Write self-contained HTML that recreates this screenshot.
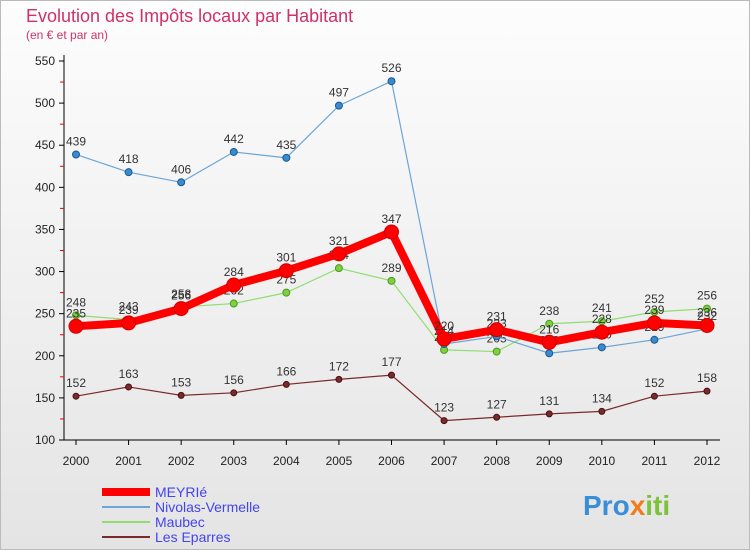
<!DOCTYPE html>
<html><head><meta charset="utf-8"><style>
body{margin:0;width:750px;height:550px;overflow:hidden;font-family:"Liberation Sans",sans-serif;}
svg{display:block}
</style></head><body>
<svg width="750" height="550" xmlns="http://www.w3.org/2000/svg">
<defs><linearGradient id="bg" x1="0" y1="0" x2="0" y2="1"><stop offset="0" stop-color="#fdfdfd"/><stop offset="1" stop-color="#e4e4e4"/></linearGradient></defs>
<rect x="0.5" y="0.5" width="749" height="549" fill="url(#bg)" stroke="#bbb"/>
<text x="26" y="22" font-size="18" fill="#d0306a">Evolution des Impôts locaux par Habitant</text>
<text x="26" y="39" font-size="12" fill="#d0306a">(en € et par an)</text>
<g id="axes"></g><g id="series"></g><g id="legend"></g>
<text x="583" y="515" font-size="28" font-weight="bold"><tspan fill="#3a8ed8">Pro</tspan><tspan fill="#f07c1a">x</tspan><tspan fill="#7cc23a">iti</tspan></text>
</svg>
<script>
const years=["2000","2001","2002","2003","2004","2005","2006","2007","2008","2009","2010","2011","2012"];
const meyrie=[235,239,256,284,301,321,347,220,231,216,228,239,236];
const nivolas=[439,418,406,442,435,497,526,214,223,203,210,219,232];
const maubec=[248,243,258,262,275,304,289,207,205,238,241,252,256];
const eparres=[152,163,153,156,166,172,177,123,127,131,134,152,158];
const yTicks=[100,150,200,250,300,350,400,450,500,550];
const NS="http://www.w3.org/2000/svg";
const X=i=>76+i*(707-76)/12;
const Y=v=>440-(v-100)*(440-61)/450;
function mk(t,a,p){const e=document.createElementNS(NS,t);for(const k in a)e.setAttribute(k,a[k]);p.appendChild(e);return e;}
const ax=document.getElementById('axes');
let yl=mk('line',{x1:64,y1:55,x2:64,y2:440,stroke:'#000'},ax);


let xl=mk('line',{x1:64,y1:440,x2:720,y2:440,stroke:'#000'},ax);


yTicks.forEach(v=>{mk('line',{x1:59,y1:Y(v),x2:64,y2:Y(v),stroke:'#000'},ax);
 if(v<550)mk('line',{x1:60,y1:Y(v+25),x2:64,y2:Y(v+25),stroke:'#e00'},ax);
 const t=mk('text',{x:55,y:Y(v)+4,'font-size':12,'text-anchor':'end',fill:'#222'},ax);t.textContent=v;
 
 });
years.forEach((y,i)=>{mk('line',{x1:X(i),y1:440,x2:X(i),y2:445,stroke:'#000'},ax);
 const t=mk('text',{x:X(i),y:465,'font-size':12,'text-anchor':'middle',fill:'#222'},ax);t.textContent=y;
 
 });
const sg=document.getElementById('series');
function series(data,name,color,w,r,dot,stroke){
 const g=mk('g',{},sg);
 
 
 mk('polyline',{points:data.map((v,i)=>X(i)+','+Y(v)).join(' '),fill:'none',stroke:color,'stroke-width':w,'stroke-linejoin':'round'},g);
 data.forEach((v,i)=>{const c=mk('circle',{cx:X(i),cy:Y(v),r:r,fill:dot,stroke:stroke,'stroke-width':1},g);
  
  
  const t=mk('text',{x:X(i),y:Y(v)-9,'font-size':12,'text-anchor':'middle',fill:'#333'},g);t.textContent=v;
  
  });
}
series(eparres,'les-eparres','#7a2a2a',1.2,3,'#7a2a2a','#4a1010');
series(maubec,'maubec','#90dd70',1.2,3.5,'#80d040','#4a9a20');
series(nivolas,'nivolas-vermelle','#6aa6d8',1.2,3.5,'#3a8ad0','#1a5a90');
series(meyrie,'meyrie','#ff0000',8,7,'#ff0000','#d00000');
const lg=document.getElementById('legend');
const leg=[['MEYRIé','#ff0000',8,'legend-meyrie'],['Nivolas-Vermelle','#6aa6d8',2,'legend-nivolas-vermelle'],['Maubec','#90dd70',2,'legend-maubec'],['Les Eparres','#7a2a2a',2,'legend-les-eparres']];
leg.forEach((l,i)=>{const y=492+i*15;
 const g=mk('g',{},lg);
 
 
 mk('line',{x1:102,y1:y,x2:150,y2:y,stroke:l[1],'stroke-width':l[2]},g);
 const t=mk('text',{x:155,y:y+5,'font-size':14,fill:'#4444ee'},g);t.textContent=l[0];});
</script>
</body></html>
